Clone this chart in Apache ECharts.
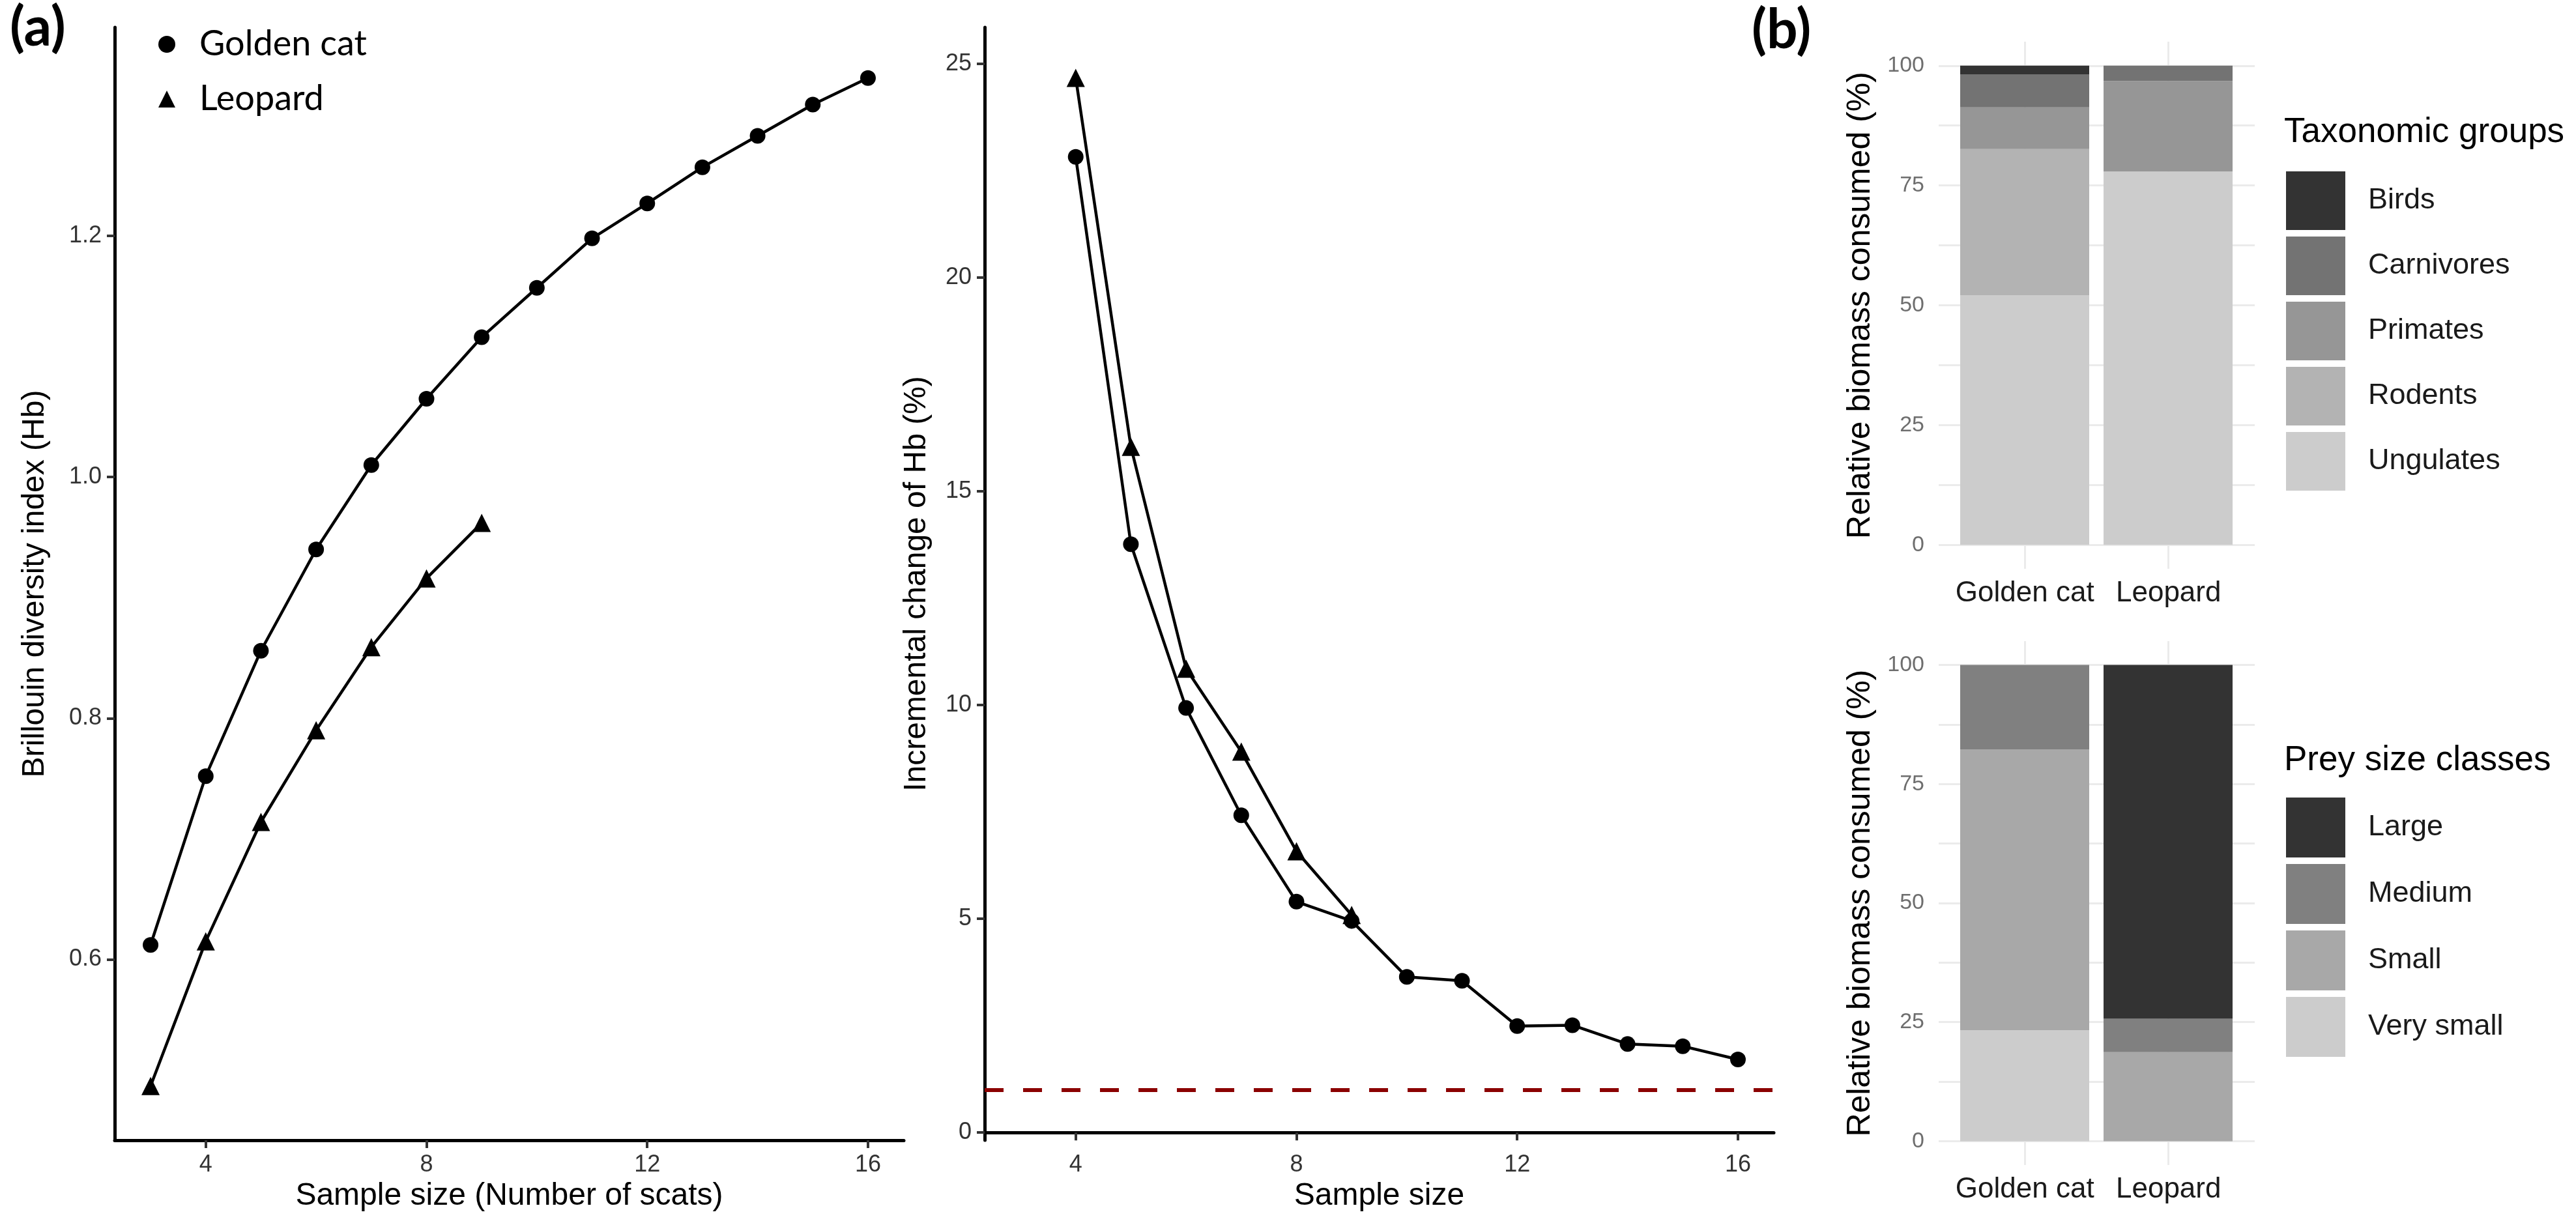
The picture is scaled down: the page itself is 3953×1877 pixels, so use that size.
<!DOCTYPE html>
<html>
<head>
<meta charset="utf-8">
<script src="https://cdn.jsdelivr.net/npm/echarts@6.0.0/dist/echarts.min.js"></script>
<style>
  html, body { margin: 0; padding: 0; background: #fff; }
  #main { width: 3953px; height: 1877px; }
</style>
</head>
<body>
<div id="main"></div>
<script>
// (a) left: Brillouin index by sample size
const gcSizes = [3, 4, 5, 6, 7, 8, 9, 10, 11, 12, 13, 14, 15, 16];
const gcHb = [0.612, 0.752, 0.856, 0.940, 1.010, 1.065, 1.116, 1.157, 1.198, 1.227, 1.257, 1.283, 1.309, 1.331];
const leoSizes = [3, 4, 5, 6, 7, 8, 9];
const leoHb = [0.495, 0.615, 0.714, 0.790, 0.859, 0.916, 0.962];

// (a) middle: incremental change of Hb (%)
const gcChangeSizes = [4, 5, 6, 7, 8, 9, 10, 11, 12, 13, 14, 15, 16];
const gcChange = [22.82, 13.76, 9.93, 7.42, 5.40, 4.95, 3.64, 3.55, 2.49, 2.51, 2.07, 2.02, 1.71];
const leoChangeSizes = [4, 5, 6, 7, 8, 9];
const leoChange = [24.67, 16.04, 10.85, 8.91, 6.58, 5.09];
const changeThreshold = 1;

const sizeTicks = [4, 8, 12, 16];
const hbTicks = [0.6, 0.8, 1.0, 1.2];
const changeTicks = [0, 5, 10, 15, 20, 25];

// (b) relative biomass consumed (%)
const predators = ['Golden cat', 'Leopard'];
const taxGroups = ['Birds', 'Carnivores', 'Primates', 'Rodents', 'Ungulates'];
const taxGolden = [1.8, 6.9, 8.7, 30.5, 52.1];
const taxLeopard = [0, 3.2, 18.9, 0, 77.9];
const taxColors = ['#333333', '#737373', '#969696', '#b3b3b3', '#cccccc'];

const sizeClasses = ['Large', 'Medium', 'Small', 'Very small'];
const sizeGolden = [0, 17.7, 59.0, 23.3];
const sizeLeopard = [74.3, 7.0, 18.7, 0];
const sizeColors = ['#333333', '#808080', '#a8a8a8', '#cccccc'];

const pctTicks = [0, 25, 50, 75, 100];
const pctGrid = [0, 12.5, 25, 37.5, 50, 62.5, 75, 87.5, 100];

const AX = 'Liberation Sans';
const LG = 'Lato';

function pairs(xs, ys) { return xs.map((x, i) => [x, ys[i]]); }

function lineX(gridIndex, name) {
  return {
    gridIndex, type: 'value', min: 2.35, max: 16.65,
    name, nameLocation: 'middle', nameGap: 62,
    nameTextStyle: { fontFamily: AX, fontSize: 48, color: '#000' },
    axisLine: { show: true, lineStyle: { color: '#000', width: 5 } },
    axisTick: { show: true, length: 12, lineStyle: { color: '#333', width: 4 }, customValues: sizeTicks },
    axisLabel: { customValues: sizeTicks, fontFamily: AX, fontSize: 36, color: '#333', margin: 20 },
    splitLine: { show: false }
  };
}
function lineY(gridIndex, name, min, max, ticks, fmt, gap) {
  return {
    gridIndex, type: 'value', min, max,
    name, nameLocation: 'middle', nameRotate: 90, nameGap: gap,
    nameTextStyle: { fontFamily: AX, fontSize: 48, color: '#000' },
    axisLine: { show: true, lineStyle: { color: '#000', width: 5 } },
    axisTick: { show: true, length: 12, lineStyle: { color: '#333', width: 4 }, customValues: ticks },
    axisLabel: { customValues: ticks, fontFamily: AX, fontSize: 36, color: '#333', margin: 20, formatter: fmt },
    splitLine: { show: false }
  };
}
// panel axes (gridlines + labels) for the bar panels
function panelX(gridIndex) {
  return {
    gridIndex, type: 'value', min: 0.4, max: 2.6,
    axisLine: { show: false },
    axisTick: { show: false, customValues: [1, 2] },
    axisLabel: {
      customValues: [1, 2], fontFamily: AX, fontSize: 44, color: '#1a1a1a', margin: 16,
      formatter: v => predators[Math.round(v) - 1]
    },
    splitLine: { show: true, lineStyle: { color: '#ebebeb', width: 3 } }
  };
}
function panelY(gridIndex) {
  return {
    gridIndex, type: 'value', min: -5, max: 105,
    name: 'Relative biomass consumed (%)', nameLocation: 'middle', nameRotate: 90, nameGap: 95,
    nameTextStyle: { fontFamily: AX, fontSize: 50, color: '#000' },
    axisLine: { show: false },
    axisTick: { show: false, customValues: pctGrid },
    axisLabel: { customValues: pctTicks, fontFamily: AX, fontSize: 34, color: '#6e6e6e', margin: 22 },
    splitLine: { show: true, lineStyle: { color: '#ebebeb', width: 3 } }
  };
}
// hidden axes the stacked bars are drawn on
function barX(gridIndex) {
  return { gridIndex, type: 'category', data: predators, show: false, boundaryGap: true };
}
function barY(gridIndex) {
  return { gridIndex, type: 'value', min: -5, max: 105, show: false, splitLine: { show: false } };
}

function lineSeries(name, axisIndex, xs, ys, symbol, size) {
  return {
    type: 'line', name, xAxisIndex: axisIndex, yAxisIndex: axisIndex,
    data: pairs(xs, ys), symbol, symbolSize: size, showSymbol: true,
    lineStyle: { color: '#000', width: 4.5 }, itemStyle: { color: '#000' },
    emphasis: { disabled: true }
  };
}

function stackSeries(groups, golden, leopard, colors, axisIndex, stack) {
  const out = [];
  for (let i = groups.length - 1; i >= 0; i--) {
    out.push({
      type: 'bar', name: groups[i], stack, xAxisIndex: axisIndex, yAxisIndex: axisIndex,
      barWidth: '90%',
      data: [golden[i], leopard[i]],
      itemStyle: { color: colors[i], borderWidth: 0 },
      emphasis: { disabled: true }
    });
  }
  return out;
}

const middleGc = lineSeries('Golden cat', 1, gcChangeSizes, gcChange, 'circle', 24);
middleGc.markLine = {
  silent: true, symbol: 'none', label: { show: false },
  lineStyle: { color: '#8B0000', width: 6, type: [29, 30] },
  data: [{ yAxis: changeThreshold }]
};

const topPanel = { left: 2975, right: 3953 - 3460, top: 64, bottom: 1877 - 873, outerBoundsMode: 'none' };
const botPanel = { left: 2975, right: 3953 - 3460, top: 984, bottom: 1877 - 1788, outerBoundsMode: 'none' };

const option = {
  animation: false,
  backgroundColor: '#fff',
  title: [
    { text: '(a)', left: 10, top: -4, textStyle: { fontFamily: LG, fontWeight: 'bold', fontSize: 84, color: '#000' } },
    { text: '(b)', left: 2683, top: 0, textStyle: { fontFamily: LG, fontWeight: 'bold', fontSize: 84, color: '#000' } },
    { text: 'Taxonomic groups', left: 3500, top: 172, textStyle: { fontFamily: AX, fontWeight: 'normal', fontSize: 53, color: '#000' } },
    { text: 'Prey size classes', left: 3500, top: 1136, textStyle: { fontFamily: AX, fontWeight: 'normal', fontSize: 53, color: '#000' } }
  ],
  legend: [
    {
      orient: 'vertical', left: 238, top: 33, itemWidth: 26, itemHeight: 26, itemGap: 24,
      data: [{ name: 'Golden cat', icon: 'circle' }, { name: 'Leopard', icon: 'triangle' }],
      itemStyle: { color: '#000' },
      textStyle: { fontFamily: LG, fontSize: 54, color: '#000', lineHeight: 60, padding: [0, 0, 0, 32] }
    },
    {
      orient: 'vertical', left: 3503, top: 258, itemWidth: 91, itemHeight: 90, itemGap: 10,
      data: taxGroups.map(n => ({ name: n, icon: 'rect' })),
      textStyle: { fontFamily: AX, fontSize: 45, color: '#1a1a1a', padding: [0, 0, 0, 30] }
    },
    {
      orient: 'vertical', left: 3503, top: 1219, itemWidth: 91, itemHeight: 92, itemGap: 10,
      data: sizeClasses.map(n => ({ name: n, icon: 'rect' })),
      textStyle: { fontFamily: AX, fontSize: 45, color: '#1a1a1a', padding: [0, 0, 0, 30] }
    }
  ],
  grid: [
    { left: 176, right: 3953 - 1387, top: 42, bottom: 1877 - 1750, outerBoundsMode: 'none' },
    { left: 1511, right: 3953 - 2722, top: 42, bottom: 1877 - 1750, outerBoundsMode: 'none' },
    topPanel,
    botPanel,
    Object.assign({}, topPanel, { left: 2997, right: 3953 - 3437 }),
    Object.assign({}, botPanel, { left: 2997, right: 3953 - 3437 })
  ],
  xAxis: [
    lineX(0, 'Sample size (Number of scats)'),
    lineX(1, 'Sample size'),
    panelX(2),
    panelX(3),
    barX(4),
    barX(5)
  ],
  yAxis: [
    lineY(0, 'Brillouin diversity index (Hb)', 0.45, 1.373, hbTicks, v => v.toFixed(1), 98),
    lineY(1, 'Incremental change of Hb (%)', -0.18, 25.85, changeTicks, v => String(v), 80),
    panelY(2),
    panelY(3),
    barY(4),
    barY(5)
  ],
  series: [
    lineSeries('Golden cat', 0, gcSizes, gcHb, 'circle', 24),
    lineSeries('Leopard', 0, leoSizes, leoHb, 'triangle', 28),
    middleGc,
    lineSeries('Leopard', 1, leoChangeSizes, leoChange, 'triangle', 28)
  ]
    .concat(stackSeries(taxGroups, taxGolden, taxLeopard, taxColors, 4, 'tax'))
    .concat(stackSeries(sizeClasses, sizeGolden, sizeLeopard, sizeColors, 5, 'size'))
};

const chart = echarts.init(document.getElementById('main'));
chart.setOption(option);
</script>
</body>
</html>
